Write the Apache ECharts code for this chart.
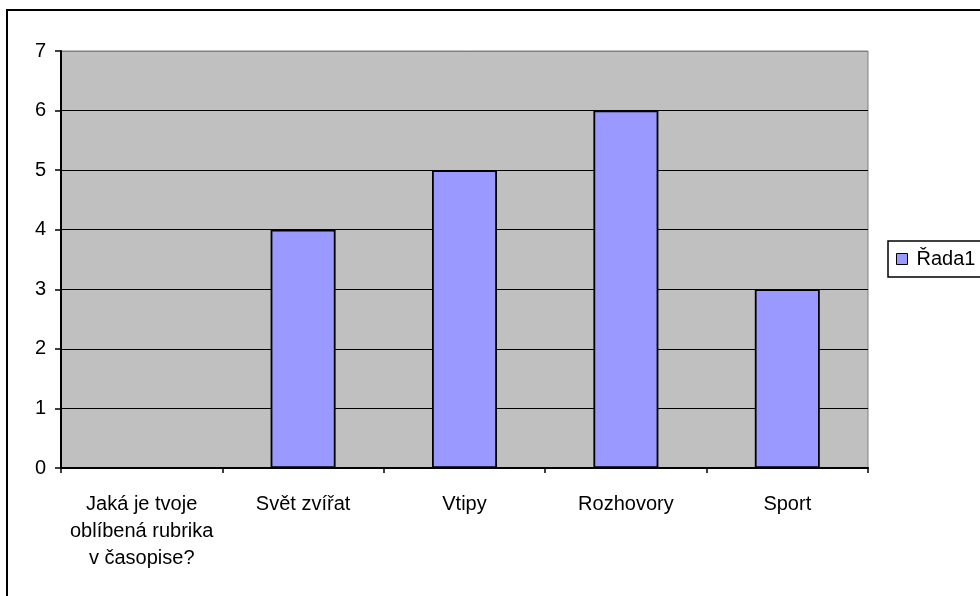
<!DOCTYPE html>
<html>
<head>
<meta charset="utf-8">
<script src="https://cdn.jsdelivr.net/npm/echarts@6/dist/echarts.min.js"></script>
<style>
  html, body { margin: 0; padding: 0; background: #fff; }
  #chart { width: 980px; height: 596px; }
</style>
</head>
<body>
<div id="chart"></div>
<script>
var categories = ['Jaká je tvoje\noblíbená rubrika\nv časopise?', 'Svět zvířat', 'Vtipy', 'Rozhovory', 'Sport']
var seriesValues = [null, 4, 5, 6, 3]
var seriesName = 'Řada1'
var yTicks = [0, 1, 2, 3, 4, 5, 6, 7]

var chart = echarts.init(document.getElementById('chart'))
var font = 'Liberation Sans, Arial, sans-serif'

var option = {
  animation: false,
  backgroundColor: '#fff',
  textStyle: { fontFamily: font },
  graphic: [
    {
      // outer chart frame
      type: 'rect',
      shape: { x: 7, y: 10, width: 1000, height: 620 },
      style: { fill: 'none', stroke: '#000', lineWidth: 2 },
      silent: true
    }
  ],
  grid: {
    left: 61,
    right: 112,
    top: 51,
    bottom: 128,
    show: true,
    backgroundColor: '#C0C0C0',
    borderColor: '#808080',
    borderWidth: 1
  },
  legend: {
    left: 888,
    top: 241,
    orient: 'vertical',
    padding: [8, 12, 8, 8],
    borderColor: '#000',
    borderWidth: 1.5,
    backgroundColor: '#fff',
    itemWidth: 11,
    itemHeight: 11,
    icon: 'rect',
    itemStyle: { borderColor: '#000', borderWidth: 1 },
    textStyle: { fontSize: 20, color: '#000', fontFamily: font, padding: [0, 0, 0, 4] },
    data: [seriesName]
  },
  xAxis: {
    type: 'category',
    data: categories,
    axisLine: { lineStyle: { color: '#000', width: 2 } },
    axisTick: { show: true, length: 5, lineStyle: { color: '#000', width: 1.5 } },
    axisLabel: {
      interval: 0,
      margin: 23,
      fontSize: 20,
      lineHeight: 27,
      color: '#000',
      fontFamily: font
    },
    splitLine: { show: false }
  },
  yAxis: {
    type: 'value',
    min: yTicks[0],
    max: yTicks[yTicks.length - 1],
    interval: 1,
    axisLine: { show: true, lineStyle: { color: '#000', width: 2 } },
    axisTick: { show: true, length: 6, lineStyle: { color: '#000', width: 1.5 } },
    axisLabel: { fontSize: 20, color: '#000', margin: 15, fontFamily: font },
    splitLine: {
      show: true,
      lineStyle: { color: ['#000', '#000', '#000', '#000', '#000', '#000', '#000', '#808080'], width: 1.2 }
    }
  },
  series: [
    {
      name: seriesName,
      type: 'bar',
      data: seriesValues,
      barWidth: 65,
      itemStyle: { color: '#9999FF', borderColor: '#000', borderWidth: 1.8 }
    }
  ]
}
chart.setOption(option)
</script>
</body>
</html>
